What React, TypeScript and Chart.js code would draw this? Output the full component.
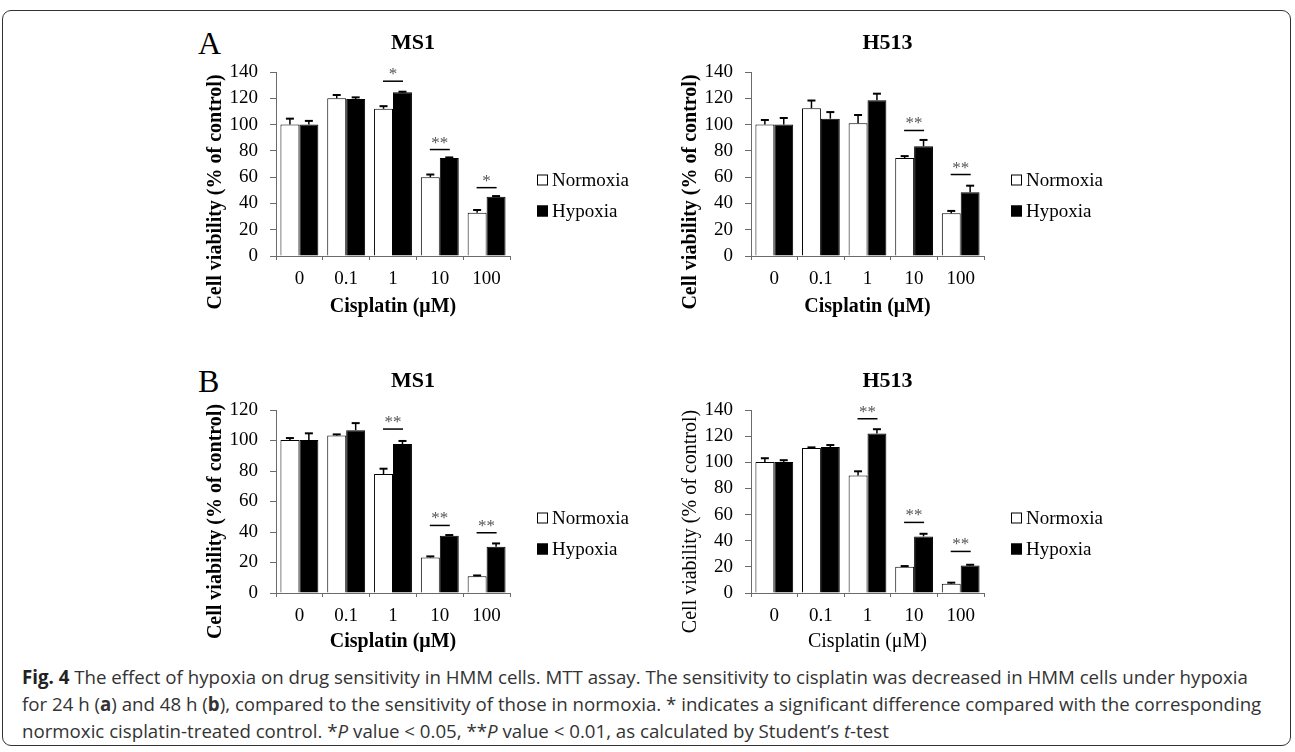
import React, { useEffect, useLayoutEffect, useRef, useState } from 'react';
import { Chart, registerables } from 'chart.js';

Chart.register(...registerables);

// ---------- data ----------
const categories = ['0', '0.1', '1', '10', '100'];
const seriesLabels = ['Normoxia', 'Hypoxia'];

// Panel A (24 h), MS1
const aMs1Normoxia = [100, 120, 112, 60, 33];
const aMs1NormoxiaErr = [4.5, 2.5, 2, 2, 2];
const aMs1Hypoxia = [100, 119.5, 124.5, 74.5, 45];
const aMs1HypoxiaErr = [2.8, 1.2, 0.5, 0.5, 0.6];
const aMs1SigIndex = [2, 3, 4];
const aMs1SigLabel = ['*', '**', '*'];
const aMs1SigValue = [133, 81, 52];

// Panel A (24 h), H513
const aH513Normoxia = [100, 112.5, 101, 74.5, 32.5];
const aH513NormoxiaErr = [3.5, 5.8, 6.3, 1.5, 1.8];
const aH513Hypoxia = [100, 104.5, 118.5, 83.5, 48.5];
const aH513HypoxiaErr = [5, 5, 5, 4.8, 5];
const aH513SigIndex = [3, 4];
const aH513SigLabel = ['**', '**'];
const aH513SigValue = [95.5, 62];

// Panel B (48 h), MS1
const bMs1Normoxia = [100.3, 103.3, 78, 23.3, 11];
const bMs1NormoxiaErr = [1.3, 0.7, 3.5, 0.7, 0.5];
const bMs1Hypoxia = [100.3, 106.8, 97.7, 37.5, 30.3];
const bMs1HypoxiaErr = [4.4, 4.6, 2, 0.5, 2.2];
const bMs1SigIndex = [2, 3, 4];
const bMs1SigLabel = ['**', '**', '**'];
const bMs1SigValue = [107.5, 44.3, 39.5];

// Panel B (48 h), H513
const bH513Normoxia = [100.3, 110.9, 89.8, 20.1, 7.1];
const bH513NormoxiaErr = [2.8, 0.5, 3.3, 0.5, 0.8];
const bH513Hypoxia = [100.3, 111.7, 122, 43.3, 21.1];
const bH513HypoxiaErr = [1.3, 1.5, 3.3, 2, 0.5];
const bH513SigIndex = [2, 3, 4];
const bH513SigLabel = ['**', '**', '**'];
const bH513SigValue = [133.3, 54, 31.8];

const xTitle = 'Cisplatin (μM)';
const yTitle = 'Cell viability (% of control)';

// ---------- styles ----------
const SERIF = "'Liberation Serif', 'Times New Roman', serif";
const SANS = "'Open Sans', 'Noto Sans', sans-serif";
const AXIS = '#6b6b6b';

type PanelProps = {
  left: number;
  top: number;
  width: number;
  height: number;
  area: { l: number; t: number; r: number; b: number };
  yMax: number;
  title: string;
  norm: number[];
  normErr: number[];
  hyp: number[];
  hypErr: number[];
  sigIndex: number[];
  sigLabel: string[];
  sigValue: number[];
  bold: boolean;
  yTitleDy: number;
};

function makeDecor(p: PanelProps) {
  return {
    id: 'decor',
    afterDatasetsDraw(chart: any) {
      const ctx = chart.ctx;
      const ys = chart.scales.y;
      const xs = chart.scales.x;
      const errs = [p.normErr, p.hypErr];
      ctx.save();
      ctx.strokeStyle = '#000';
      errs.forEach((err, di) => {
        const meta = chart.getDatasetMeta(di);
        const vals = chart.data.datasets[di].data as number[];
        meta.data.forEach((bar: any, i: number) => {
          const yTop = ys.getPixelForValue(vals[i]);
          const yErr = ys.getPixelForValue(vals[i] + err[i]);
          ctx.lineWidth = 1.5;
          ctx.beginPath();
          ctx.moveTo(bar.x, yTop);
          ctx.lineTo(bar.x, yErr);
          ctx.stroke();
          ctx.lineWidth = 2;
          ctx.beginPath();
          ctx.moveTo(bar.x - 4, yErr);
          ctx.lineTo(bar.x + 4, yErr);
          ctx.stroke();
        });
      });
      // significance marks
      p.sigIndex.forEach((ci, k) => {
        const cx = xs.getPixelForValue(ci);
        const ly = ys.getPixelForValue(p.sigValue[k]);
        ctx.strokeStyle = '#000';
        ctx.lineWidth = 1.5;
        ctx.beginPath();
        ctx.moveTo(cx - 10, ly);
        ctx.lineTo(cx + 10, ly);
        ctx.stroke();
        ctx.fillStyle = '#555';
        ctx.font = `17px ${SERIF}`;
        ctx.textAlign = 'center';
        ctx.textBaseline = 'alphabetic';
        ctx.fillText(p.sigLabel[k], cx, ly - 2);
      });
      ctx.restore();
    },
    afterDraw(chart: any) {
      const ctx = chart.ctx;
      const ca = chart.chartArea;
      ctx.save();
      // panel title
      ctx.fillStyle = '#000';
      ctx.font = `bold 22px ${SERIF}`;
      ctx.textAlign = 'center';
      ctx.textBaseline = 'middle';
      ctx.fillText(p.title, (ca.left + ca.right) / 2 + 20, ca.top - 29);
      // y axis title
      ctx.save();
      ctx.translate(ca.left - 60, (ca.top + ca.bottom) / 2 + p.yTitleDy);
      ctx.rotate(-Math.PI / 2);
      ctx.font = `${p.bold ? 'bold ' : ''}20px ${SERIF}`;
      ctx.fillText(yTitle, 0, 0);
      ctx.restore();
      // legend
      const lx = ca.right + 27;
      [0, 1].forEach((i) => {
        const cy = ca.top + (i === 0 ? 108 : 139);
        ctx.fillStyle = i === 0 ? '#fff' : '#000';
        ctx.fillRect(lx, cy - 5.5, 11, 11);
        ctx.strokeStyle = '#000';
        ctx.lineWidth = 1;
        ctx.strokeRect(lx + 0.5, cy - 5, 10, 10);
        ctx.fillStyle = '#000';
        ctx.font = `19px ${SERIF}`;
        ctx.textAlign = 'left';
        ctx.textBaseline = 'middle';
        ctx.fillText(seriesLabels[i], lx + 15, cy + 1);
      });
      ctx.restore();
    },
  };
}

function Panel(p: PanelProps) {
  const ref = useRef<HTMLCanvasElement>(null);
  useEffect(() => {
    if (!ref.current) return;
    const chart = new Chart(ref.current, {
      type: 'bar',
      data: {
        labels: categories,
        datasets: [
          {
            label: seriesLabels[0],
            data: p.norm,
            backgroundColor: '#ffffff',
            borderColor: '#000000',
            borderWidth: 1,
            categoryPercentage: 0.81,
            barPercentage: 1,
          },
          {
            label: seriesLabels[1],
            data: p.hyp,
            backgroundColor: '#000000',
            borderColor: '#000000',
            borderWidth: 1,
            categoryPercentage: 0.81,
            barPercentage: 1,
          },
        ],
      },
      options: {
        responsive: false,
        animation: false,
        layout: { padding: { top: p.area.t, right: p.width - p.area.r, left: 0, bottom: 0 } },
        plugins: {
          legend: { display: false },
          tooltip: { enabled: false },
          title: { display: false },
        },
        scales: {
          x: {
            grid: { display: true, drawOnChartArea: false, drawTicks: true, tickLength: 4, color: AXIS },
            border: { display: true, color: AXIS, width: 1 },
            ticks: { font: { family: SERIF, size: 19 }, color: '#000', padding: 8, maxRotation: 0 },
            title: {
              display: true,
              text: xTitle,
              color: '#000',
              font: { family: SERIF, size: 20, weight: p.bold ? 'bold' : 'normal' },
              padding: { top: 0, bottom: 3 },
            },
            afterFit: (s: any) => {
              s.height = p.height - p.area.b;
            },
          },
          y: {
            min: 0,
            max: p.yMax,
            grid: { display: true, drawOnChartArea: false, drawTicks: true, tickLength: 6, color: AXIS },
            border: { display: true, color: AXIS, width: 1 },
            ticks: { stepSize: 20, font: { family: SERIF, size: 19 }, color: '#000', padding: 12 },
            afterFit: (s: any) => {
              s.width = p.area.l;
            },
          },
        },
      } as any,
      plugins: [makeDecor(p)],
    });
    return () => chart.destroy();
  }, []);
  return (
    <canvas
      ref={ref}
      width={p.width}
      height={p.height}
      style={{ position: 'absolute', left: p.left, top: p.top, width: p.width, height: p.height }}
    />
  );
}

function Caption() {
  const lineRef = useRef<HTMLDivElement>(null);
  const [scale, setScale] = useState(1);
  useLayoutEffect(() => {
    const measure = () => {
      if (lineRef.current) {
        const w = lineRef.current.scrollWidth;
        if (w > 0) setScale(1226 / w);
      }
    };
    measure();
    if ((document as any).fonts && (document as any).fonts.ready) {
      (document as any).fonts.ready.then(measure);
    }
  }, []);
  const lineStyle: React.CSSProperties = { whiteSpace: 'nowrap', display: 'inline-block' };
  return (
    <div
      style={{
        position: 'absolute',
        left: 22,
        top: 664,
        fontFamily: SANS,
        fontSize: 19,
        lineHeight: '27px',
        color: '#333',
        transform: `scaleX(${scale})`,
        transformOrigin: '0 0',
      }}
    >
      <div ref={lineRef} style={lineStyle}>
        <b style={{ color: '#222' }}>Fig. 4</b> The effect of hypoxia on drug sensitivity in HMM cells. MTT assay. The
        sensitivity to cisplatin was decreased in HMM cells under hypoxia
      </div>
      <br />
      <div style={lineStyle}>
        for 24 h (<b>a</b>) and 48 h (<b>b</b>), compared to the sensitivity of those in normoxia. * indicates a
        significant difference compared with the corresponding
      </div>
      <br />
      <div style={lineStyle}>
        normoxic cisplatin-treated control. *<i>P</i> value &lt; 0.05, **<i>P</i> value &lt; 0.01, as calculated by
        Student’s <i>t</i>-test
      </div>
    </div>
  );
}

export default function App() {
  const common = { width: 474, height: 310 };
  return (
    <div
      style={{
        position: 'fixed',
        left: 0,
        top: 0,
        width: 1295,
        height: 752,
        background: '#fff',
        overflow: 'hidden',
      }}
    >
      <div
        style={{
          position: 'absolute',
          left: 2,
          top: 10,
          width: 1289,
          height: 736,
          border: '1.5px solid #333',
          borderRadius: 9,
          boxSizing: 'border-box',
        }}
      />
      <div style={{ position: 'absolute', left: 198, top: 27, fontFamily: SERIF, fontSize: 32, lineHeight: '32px' }}>A</div>
      <div style={{ position: 'absolute', left: 198, top: 365, fontFamily: SERIF, fontSize: 32, lineHeight: '32px' }}>B</div>
      <Panel
        left={186}
        top={12}
        {...common}
        area={{ l: 90, t: 60, r: 324, b: 244 }}
        yMax={140}
        title="MS1"
        norm={aMs1Normoxia}
        normErr={aMs1NormoxiaErr}
        hyp={aMs1Hypoxia}
        hypErr={aMs1HypoxiaErr}
        sigIndex={aMs1SigIndex}
        sigLabel={aMs1SigLabel}
        sigValue={aMs1SigValue}
        bold={true}
        yTitleDy={28}
      />
      <Panel
        left={661}
        top={12}
        width={520}
        height={310}
        area={{ l: 90, t: 60, r: 323, b: 244 }}
        yMax={140}
        title="H513"
        norm={aH513Normoxia}
        normErr={aH513NormoxiaErr}
        hyp={aH513Hypoxia}
        hypErr={aH513HypoxiaErr}
        sigIndex={aH513SigIndex}
        sigLabel={aH513SigLabel}
        sigValue={aH513SigValue}
        bold={true}
        yTitleDy={28}
      />
      <Panel
        left={186}
        top={350}
        width={474}
        height={307}
        area={{ l: 90, t: 60, r: 324, b: 243 }}
        yMax={120}
        title="MS1"
        norm={bMs1Normoxia}
        normErr={bMs1NormoxiaErr}
        hyp={bMs1Hypoxia}
        hypErr={bMs1HypoxiaErr}
        sigIndex={bMs1SigIndex}
        sigLabel={bMs1SigLabel}
        sigValue={bMs1SigValue}
        bold={true}
        yTitleDy={20}
      />
      <Panel
        left={661}
        top={350}
        width={520}
        height={307}
        area={{ l: 90, t: 60, r: 323, b: 243 }}
        yMax={140}
        title="H513"
        norm={bH513Normoxia}
        normErr={bH513NormoxiaErr}
        hyp={bH513Hypoxia}
        hypErr={bH513HypoxiaErr}
        sigIndex={bH513SigIndex}
        sigLabel={bH513SigLabel}
        sigValue={bH513SigValue}
        bold={false}
        yTitleDy={20}
      />
      <Caption />
    </div>
  );
}
